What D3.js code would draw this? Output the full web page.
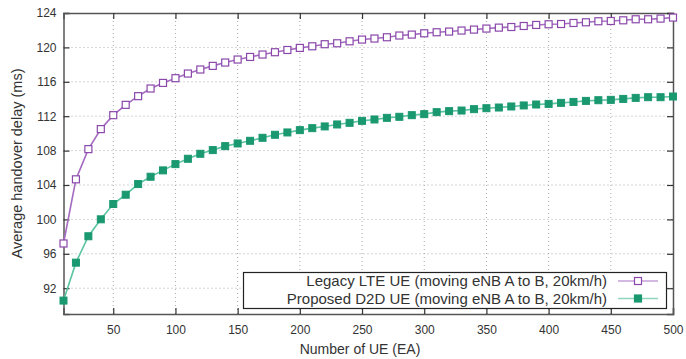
<!DOCTYPE html>
<html>
<head>
<meta charset="utf-8">
<script src="https://cdn.jsdelivr.net/npm/d3@7"></script>
<style>
  html, body { margin: 0; padding: 0; background: #fff; }
  svg text { font-family: "Liberation Sans", Arial, sans-serif; fill: #333; }
</style>
</head>
<body>
<div id="chart"></div>
<script>
// number of UE
const ueCounts = d3.range(10, 501, 10);

const legacyDelay = [
  97.2, 104.66, 108.17, 110.5, 112.12, 113.32, 114.33, 115.22, 115.87, 116.42,
  116.96, 117.43, 117.85, 118.24, 118.59, 118.89, 119.17, 119.44, 119.70, 119.94,
  120.13, 120.37, 120.48, 120.71, 120.91, 121.03, 121.18, 121.38, 121.49, 121.64,
  121.76, 121.84, 121.96, 122.07, 122.19, 122.30, 122.37, 122.49, 122.61, 122.69,
  122.72, 122.84, 122.92, 123.04, 123.07, 123.15, 123.27, 123.27, 123.35, 123.47
];

const d2dDelay = [
  90.56, 94.97, 98.04, 100.01, 101.79, 102.87, 104.11, 104.96, 105.70, 106.43,
  107.05, 107.63, 108.06, 108.52, 108.83, 109.14, 109.49, 109.84, 110.11, 110.38,
  110.61, 110.81, 111.04, 111.23, 111.46, 111.62, 111.81, 111.93, 112.12, 112.24,
  112.47, 112.59, 112.66, 112.82, 112.93, 113.01, 113.13, 113.25, 113.36, 113.43,
  113.55, 113.66, 113.78, 113.86, 113.90, 114.01, 114.13, 114.21, 114.21, 114.29
];

const xTicks = [50, 100, 150, 200, 250, 300, 350, 400, 450, 500];
const yTicks = [92, 96, 100, 104, 108, 112, 116, 120, 124];
const seriesNames = [
  'Legacy LTE UE (moving eNB A to B, 20km/h)',
  'Proposed D2D UE (moving eNB A to B, 20km/h)'
];

const width = 686, height = 359;
const margin = { top: 13, right: 13, bottom: 45, left: 63.5 };
const plotW = width - margin.left - margin.right;
const plotH = height - margin.top - margin.bottom;

const svg = d3.select('#chart').append('svg')
  .attr('width', width)
  .attr('height', height);

const g = svg.append('g')
  .attr('transform', `translate(${margin.left},${margin.top})`);

const x = d3.scaleLinear().domain([10, 500]).range([0, plotW]);
const y = d3.scaleLinear().domain([89, 124]).range([plotH, 0]);

// grid (dotted)
g.append('g').selectAll('line')
  .data(xTicks.filter(t => t < 500))
  .enter().append('line')
  .attr('x1', d => x(d)).attr('x2', d => x(d))
  .attr('y1', 0).attr('y2', plotH)
  .attr('stroke', '#aaa').attr('stroke-width', 1)
  .attr('stroke-dasharray', '1,3');

g.append('g').selectAll('line')
  .data(yTicks.filter(t => t < 124))
  .enter().append('line')
  .attr('x1', 0).attr('x2', plotW)
  .attr('y1', d => y(d)).attr('y2', d => y(d))
  .attr('stroke', '#aaa').attr('stroke-width', 1)
  .attr('stroke-dasharray', '1,3');

// axes, ticks inward
const xAxis = g.append('g')
  .attr('transform', `translate(0,${plotH})`)
  .call(d3.axisBottom(x).tickValues(xTicks).tickSize(-6).tickPadding(11));
const yAxis = g.append('g')
  .call(d3.axisLeft(y).tickValues(yTicks).tickSize(-6).tickPadding(7));
const xTop = g.append('g')
  .call(d3.axisTop(x).tickValues(xTicks).tickSize(-6).tickFormat(''));
const yRight = g.append('g')
  .attr('transform', `translate(${plotW},0)`)
  .call(d3.axisRight(y).tickValues(yTicks).tickSize(-6).tickFormat(''));

[xAxis, yAxis, xTop, yRight].forEach(a => {
  a.select('.domain').attr('stroke', '#555').attr('stroke-width', 1.5);
  a.selectAll('.tick line').attr('stroke', '#333').attr('stroke-width', 1.2);
  a.selectAll('.tick text').style('font-size', '12px').attr('fill', '#333');
});

// lines and markers
const line = d3.line()
  .x((d, i) => x(ueCounts[i]))
  .y(d => y(d));

g.append('path')
  .datum(legacyDelay)
  .attr('d', line)
  .attr('fill', 'none')
  .attr('stroke', '#a56cc1')
  .attr('stroke-width', 1.6);

g.append('path')
  .datum(d2dDelay)
  .attr('d', line)
  .attr('fill', 'none')
  .attr('stroke', '#5cc4a0')
  .attr('stroke-width', 1.6);

const ms = 7;
g.append('g').selectAll('rect')
  .data(legacyDelay)
  .enter().append('rect')
  .attr('x', (d, i) => x(ueCounts[i]) - ms / 2)
  .attr('y', d => y(d) - ms / 2)
  .attr('width', ms).attr('height', ms)
  .attr('fill', '#fff')
  .attr('stroke', '#8a48ab')
  .attr('stroke-width', 1.2);

g.append('g').selectAll('rect')
  .data(d2dDelay)
  .enter().append('rect')
  .attr('x', (d, i) => x(ueCounts[i]) - ms / 2)
  .attr('y', d => y(d) - ms / 2)
  .attr('width', ms).attr('height', ms)
  .attr('fill', '#1a9870')
  .attr('stroke', '#1a9870')
  .attr('stroke-width', 1);

// legend
const legend = svg.append('g');
legend.append('rect')
  .attr('x', 243.5).attr('y', 272.5)
  .attr('width', 423).attr('height', 36)
  .attr('fill', '#fff')
  .attr('stroke', '#222').attr('stroke-width', 1.2);

const legendColors = [
  { line: '#c3a0d8', mark: '#8a48ab', fill: '#fff' },
  { line: '#8fd6bc', mark: '#1a9870', fill: '#1a9870' }
];
seriesNames.forEach((name, i) => {
  const ly = 281 + i * 17.5;
  legend.append('text')
    .attr('x', 607).attr('y', ly)
    .attr('dy', '0.35em')
    .attr('text-anchor', 'end')
    .style('font-size', '15px')
    .text(name);
  legend.append('line')
    .attr('x1', 618).attr('x2', 658)
    .attr('y1', ly).attr('y2', ly)
    .attr('stroke', legendColors[i].line).attr('stroke-width', 1.6);
  legend.append('rect')
    .attr('x', 638 - ms / 2).attr('y', ly - ms / 2)
    .attr('width', ms).attr('height', ms)
    .attr('fill', legendColors[i].fill)
    .attr('stroke', legendColors[i].mark).attr('stroke-width', 1.2);
});

// axis titles
svg.append('text')
  .attr('x', 360).attr('y', 349)
  .attr('dy', '0.35em')
  .attr('text-anchor', 'middle')
  .style('font-size', '14px')
  .text('Number of UE (EA)');

svg.append('text')
  .attr('transform', `translate(17,${margin.top + plotH / 2}) rotate(-90)`)
  .attr('dy', '0.35em')
  .attr('text-anchor', 'middle')
  .style('font-size', '14.5px')
  .text('Average handover delay (ms)');
</script>
</body>
</html>
